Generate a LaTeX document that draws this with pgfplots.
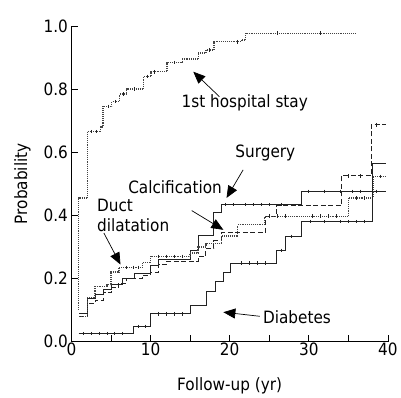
\documentclass[border=0pt]{standalone}
\usepackage{fontspec}
\setmainfont{DejaVu Sans}[FakeStretch=0.9]
\usepackage{pgfplots}
\pgfplotsset{compat=1.18}
\usetikzlibrary{arrows.meta}
\newcommand\f{\fontsize{17bp}{20bp}\selectfont}
\definecolor{ln}{HTML}{222222}
\definecolor{dl}{HTML}{444444}
\begin{document}
\begin{tikzpicture}
\begin{axis}[name=ax,
  scale only axis, width=317bp, height=316bp,
  xmin=0, xmax=40, ymin=0, ymax=1,
  axis x line*=bottom, axis y line*=left,
  axis line style={-, line width=0.8bp},
  xtick={0,10,20,30,40}, minor xtick={5,15,25,35},
  ytick={0,0.2,0.4,0.6,0.8,1.0},
  tick align=inside, major tick length=7bp, minor tick length=7bp,
  tick style={line width=0.7bp, black},
  /pgf/number format/assume math mode=true,
  yticklabel style={/pgf/number format/.cd,fixed,fixed zerofill,precision=1},
  ticklabel style={font=\f},
  label style={font=\f},
  xticklabel style={yshift=2bp},
  xlabel={Follow-up (yr)}, ylabel={Probability},
  xlabel style={yshift=-15bp},
  ylabel style={yshift=6bp},
  clip=false,
  every axis plot/.append style={const plot, line width=0.9bp},
]
% 1st hospital stay (dotted)
\addplot[dl, densely dotted, line width=1.4bp] coordinates {
(0.9,0.10) (0.9,0.455) (2.0,0.665) (3.7,0.68) (4.0,0.745) (5.1,0.76) (6.1,0.785) (7.0,0.80) (9.1,0.84) (10.05,0.855) (12.07,0.884) (14.0,0.895) (16.05,0.914) (17.0,0.924) (18.0,0.95) (21.5,0.955) (22.0,0.977) (36.0,0.977)};
% Surgery (solid)
\addplot[ln, solid] coordinates {
(1.0,0.09) (2.0,0.135) (3.1,0.15) (4.0,0.165) (5.0,0.18) (6.5,0.20) (8.0,0.215) (10.0,0.24) (11.0,0.26) (15.0,0.29) (16.0,0.335) (18.0,0.41) (19.0,0.434) (29.1,0.476) (39.8,0.476)};
% Calcification (dashed)
\addplot[ln, dash pattern=on 5bp off 2.5bp] coordinates {
(1.0,0.08) (2.0,0.12) (3.0,0.13) (4.0,0.155) (5.0,0.17) (6.0,0.185) (7.0,0.20) (9.0,0.21) (10.0,0.22) (11.0,0.245) (12.0,0.255) (16.0,0.27) (17.0,0.295) (18.0,0.32) (19.0,0.345) (24.5,0.397) (25.9,0.43) (34.1,0.525) (37.9,0.687) (39.7,0.687)};
% Duct dilatation (dotted)
\addplot[dl, densely dotted, line width=1.4bp] coordinates {
(1.0,0.08) (2.0,0.14) (3.0,0.175) (4.5,0.18) (5.0,0.22) (6.0,0.235) (9.0,0.25) (10.0,0.27) (15.0,0.28) (16.0,0.30) (17.0,0.31) (19.0,0.335) (21.0,0.37) (24.4,0.397) (35.0,0.455) (38.1,0.523) (39.7,0.523)};
% Diabetes (solid)
\addplot[ln, solid] coordinates {
(0.9,0.025) (7.9,0.048) (10.0,0.088) (15.1,0.113) (17.1,0.16) (18.2,0.19) (19.2,0.22) (20.05,0.249) (25.9,0.289) (27.0,0.333) (29.1,0.38) (38.1,0.565) (39.8,0.565)};
% censor marks
\addplot[only marks, mark=|, mark size=1.8bp, ln, mark options={line width=0.9bp}] coordinates {
(2.5,0.665) (3.2,0.665) (4.7,0.745) (5.6,0.76) (6.6,0.785) (8.0,0.80) (9.6,0.84) (10.5,0.855) (13.0,0.884) (17.5,0.924) (21.0,0.95) (26.0,0.977) (31.5,0.977)
(19.5,0.434) (20.5,0.434) (22,0.434) (23,0.434) (24,0.434) (25,0.434) (26.5,0.434) (30,0.476) (32,0.476) (34,0.476) (35.5,0.476) (36.5,0.476) (38.5,0.476)
(1.5,0.025) (2.5,0.025) (3.5,0.025) (4.5,0.025) (5.5,0.025) (6.5,0.025) (8.5,0.048) (9.3,0.048) (11,0.088) (12,0.088) (13,0.088) (14,0.088) (21.5,0.249) (22.5,0.249) (23.5,0.249) (24.5,0.249) (26.5,0.289) (27.8,0.333) (30.2,0.38) (32,0.38) (34,0.38) (35,0.38) (36,0.38) (37,0.38)
(25,0.397) (35,0.525) (36.5,0.525) (38.5,0.687)
(7,0.235) (7.8,0.235) (8.5,0.235) (11,0.27) (12,0.27) (13,0.27) (14,0.27) (26,0.397) (27,0.397) (30.5,0.397) (31.5,0.397) (32.5,0.397) (33.5,0.397) (36,0.455) (37,0.455) (39,0.523)};
% annotations
\node[font=\f] at (axis cs:21.9,0.756) {1st hospital stay};
\draw[-{Triangle[length=12bp,width=10bp]}, line width=0.7bp] (axis cs:18.7,0.776) -- (axis cs:15.4,0.855);
\node[font=\f] at (axis cs:24.5,0.598) {Surgery};
\draw[-{Triangle[length=12bp,width=10bp]}, line width=0.7bp] (axis cs:21.7,0.544) -- (axis cs:19.6,0.455);
\node[font=\f] at (axis cs:13.1,0.49) {Calcification};
\draw[-{Triangle[length=12bp,width=10bp]}, line width=0.7bp] (axis cs:15.2,0.415) -- (axis cs:19.2,0.354);
\node[font=\f, align=left, anchor=west] at (axis cs:2.8,0.40) {Duct\\dilatation};
\draw[-{Triangle[length=12bp,width=10bp]}, line width=0.7bp] (axis cs:4.1,0.344) -- (axis cs:6.2,0.244);
\node[font=\f] at (axis cs:28.5,0.076) {Diabetes};
\draw[-{Triangle[length=12bp,width=10bp]}, line width=0.7bp] (axis cs:23.8,0.08) -- (axis cs:19.2,0.093);
\end{axis}
\path (ax.south west) ++(-71.5bp,-52bp) rectangle ++(401bp,394bp);
\end{tikzpicture}
\end{document}
